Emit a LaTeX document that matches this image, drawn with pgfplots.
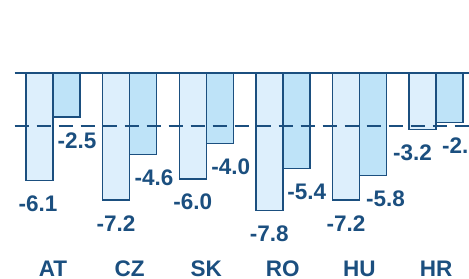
\documentclass[border=0pt]{standalone}
\usepackage{pgfplots}
\usepackage{pgfplotstable}
\pgfplotsset{compat=1.18}
\usepackage{fontspec}
\setmainfont{Liberation Sans}
\definecolor{dk}{HTML}{1B4F7F}
\definecolor{lt}{HTML}{DDEFFC}
\definecolor{md}{HTML}{BEE3F8}
\pgfplotstableread{
x y dx
0 -6.1 -1.5
1 -7.2 0
2 -6.0 0
3 -7.8 0
4 -7.2 0
5 -3.2 -10
}\lightdata
\pgfplotstableread{
x y dx
0 -2.5 10.5
1 -4.6 11
2 -4.0 11
3 -5.4 10.4
4 -5.8 12.7
5 -2.8 12
}\darkdata
\newcommand{\lblfont}{\fontsize{22.5bp}{26bp}\selectfont\bfseries}
\begin{document}
\begin{tikzpicture}
\begin{axis}[
  scale only axis, width=469bp, height=279bp,
  xmin=-0.6919, xmax=5.4308, ymin=-11.665, ymax=4.134,
  axis line style={draw=none}, major tick length=0pt,
  ytick=\empty, xtick={0,...,5}, xticklabels={AT,CZ,SK,RO,HU,HR},
  xticklabel style={anchor=base, yshift=3bp, inner sep=0pt, text=dk, font=\lblfont},
  /pgf/number format/assume math mode=true,
]
\addplot[ybar, bar width=27bp, bar shift=-13.5bp, fill=lt, draw=dk, line width=1.4bp,
  nodes near coords={\pgfmathprintnumber[fixed,fixed zerofill,precision=1]{\pgfplotspointmeta}},
  visualization depends on={\thisrow{dx}\as\dx},
  every node near coord/.append style={anchor=base, inner sep=0pt, yshift=-31bp, xshift=\dx bp-13.5bp, text=dk, font=\lblfont}]
  table[x=x,y=y]{\lightdata};
\addplot[ybar, bar width=27bp, bar shift=13.5bp, fill=md, draw=dk, line width=1.4bp,
  nodes near coords={\pgfmathprintnumber[fixed,fixed zerofill,precision=1]{\pgfplotspointmeta}},
  visualization depends on={\thisrow{dx}\as\dx},
  every node near coord/.append style={anchor=base, inner sep=0pt, yshift=-31bp, xshift=\dx bp+13.5bp, text=dk, font=\lblfont}]
  table[x=x,y=y]{\darkdata};
\addplot[dk, line width=2.2bp] coordinates {(-0.5026,0) (5.4308,0)};
\addplot[dk, line width=2bp, dash pattern=on 14bp off 8bp] coordinates {(-0.5026,-3) (5.4308,-3)};
\end{axis}
\pgfresetboundingbox
\useasboundingbox (current axis.south west) rectangle (current axis.north east);
\end{tikzpicture}
\end{document}
